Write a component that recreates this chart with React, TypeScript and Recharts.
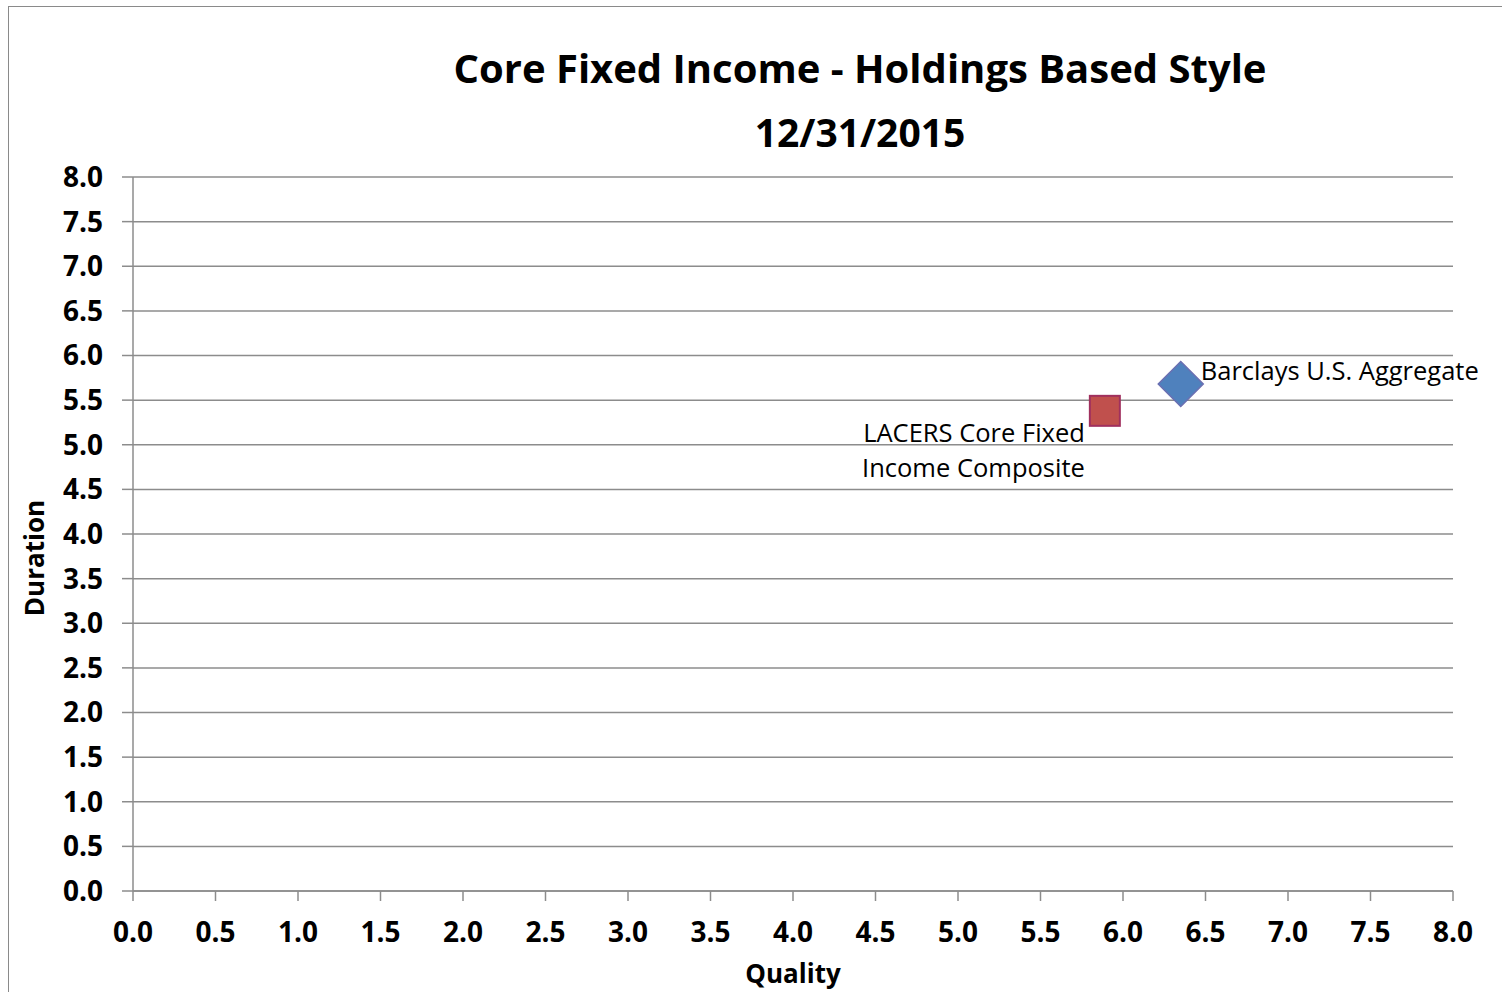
import { CartesianGrid, Scatter, ScatterChart, XAxis, YAxis } from "recharts";

const chartTitle = "Core Fixed Income - Holdings Based Style";
const chartSubtitle = "12/31/2015";
const xAxisTitle = "Quality";
const yAxisTitle = "Duration";

const axisTicks = [0, 0.5, 1, 1.5, 2, 2.5, 3, 3.5, 4, 4.5, 5, 5.5, 6, 6.5, 7, 7.5, 8];

const compositeLabel = ["LACERS Core Fixed", "Income Composite"];
const benchmarkLabel = "Barclays U.S. Aggregate";

// quality / duration
const compositeQuality = [5.89];
const compositeDuration = [5.38];
const benchmarkQuality = [6.35];
const benchmarkDuration = [5.68];

const compositeData = compositeQuality.map((q, i) => ({ quality: q, duration: compositeDuration[i] }));
const benchmarkData = benchmarkQuality.map((q, i) => ({ quality: q, duration: benchmarkDuration[i] }));

const FONT = "'Open Sans', sans-serif";
const GRID = "#8c8c8c";

const tickStyle = { fill: "#000", fontSize: 28, fontWeight: 700, fontFamily: FONT };

function SquareMarker(props: any) {
  const { cx, cy } = props;
  const s = 15;
  return (
    <g>
      <rect x={cx - s} y={cy - s} width={s * 2} height={s * 2} fill="#C0504D" stroke="#A0305E" strokeWidth={2} />
      {compositeLabel.map((line, i) => (
        <text
          key={line}
          x={cx - 20}
          y={cy + 31 + i * 35}
          textAnchor="end"
          fontFamily={FONT}
          fontSize={25.5}
          fill="#000"
        >
          {line}
        </text>
      ))}
    </g>
  );
}

function DiamondMarker(props: any) {
  const { cx, cy } = props;
  const r = 22.5;
  return (
    <g>
      <polygon
        points={`${cx},${cy - r} ${cx + r},${cy} ${cx},${cy + r} ${cx - r},${cy}`}
        fill="#4F81BD"
        stroke="#6A6FB2"
        strokeWidth={1.5}
      />
      <text x={cx + 20} y={cy - 4} fontFamily={FONT} fontSize={25.5} fill="#000">
        {benchmarkLabel}
      </text>
    </g>
  );
}

export default function App() {
  return (
    <div
      style={{
        position: "absolute",
        left: 0,
        top: 0,
        width: 1502,
        height: 992,
        overflow: "hidden",
        background: "#fff",
        fontFamily: FONT,
      }}
    >
      <div
        style={{
          position: "absolute",
          left: 8,
          top: 6,
          width: 1700,
          height: 1200,
          borderLeft: "1.5px solid #8a8a8a",
          borderTop: "1.5px solid #8a8a8a",
        }}
      />
      <div
        style={{
          position: "absolute",
          left: 0,
          width: 1720,
          top: 42,
          textAlign: "center",
          fontSize: 40,
          fontWeight: 700,
          lineHeight: "52px",
        }}
      >
        {chartTitle}
      </div>
      <div
        style={{
          position: "absolute",
          left: 0,
          width: 1720,
          top: 106,
          textAlign: "center",
          fontSize: 39,
          fontWeight: 700,
          lineHeight: "52px",
        }}
      >
        {chartSubtitle}
      </div>
      <div
        style={{
          position: "absolute",
          left: 34,
          top: 558,
          transform: "translate(-50%, -50%) rotate(-90deg)",
          fontSize: 26,
          fontWeight: 700,
          whiteSpace: "nowrap",
        }}
      >
        {yAxisTitle}
      </div>
      <div
        style={{
          position: "absolute",
          left: 793,
          top: 973,
          transform: "translate(-50%, -50%)",
          fontSize: 26,
          fontWeight: 700,
          whiteSpace: "nowrap",
        }}
      >
        {xAxisTitle}
      </div>
      <div style={{ position: "absolute", left: 0, top: 0 }}>
        <ScatterChart width={1502} height={992} margin={{ top: 177, right: 49, bottom: 41, left: 63 }}>
          <CartesianGrid vertical={false} stroke={GRID} strokeWidth={1.5} />
          <XAxis
            type="number"
            dataKey="quality"
            domain={[0, 8]}
            ticks={axisTicks}
            interval={0}
            tickFormatter={(v: number) => v.toFixed(1)}
            height={60}
            tickSize={10}
            tickMargin={21}
            stroke={GRID}
            strokeWidth={1.5}
            tick={tickStyle}
          />
          <YAxis
            type="number"
            dataKey="duration"
            domain={[0, 8]}
            ticks={axisTicks}
            interval={0}
            tickFormatter={(v: number) => v.toFixed(1)}
            width={70}
            tickSize={11}
            tickMargin={19}
            stroke={GRID}
            strokeWidth={1.5}
            tick={tickStyle}
          />
          <Scatter data={compositeData} shape={SquareMarker} isAnimationActive={false} />
          <Scatter data={benchmarkData} shape={DiamondMarker} isAnimationActive={false} />
        </ScatterChart>
      </div>
    </div>
  );
}
